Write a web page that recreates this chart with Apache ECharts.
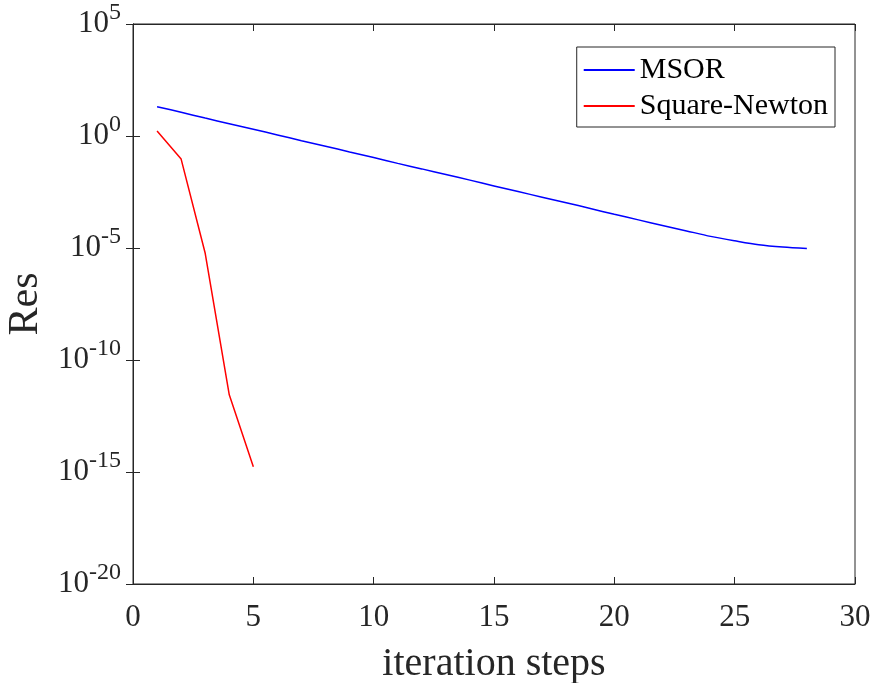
<!DOCTYPE html>
<html lang="en">
<head>
    <meta charset="UTF-8">
    <title>Res</title>
    <script src="https://cdn.jsdelivr.net/npm/echarts@6.0.0/dist/echarts.min.js"></script>
</head>
<body style="margin:0">
<div id="main" style="width: 876px;height: 683px;"></div>
</body>
<script>
    // iteration steps
    var msorSteps = [1, 2, 3, 4, 5, 6, 7, 8, 9, 10, 11, 12, 13, 14, 15, 16, 17, 18, 19, 20, 21, 22, 23, 24, 25, 26, 27, 28];
    var msorRes = [20.4, 11.5, 6.3, 3.55, 2.0, 1.12, 0.62, 0.35, 0.195, 0.11, 0.060, 0.034, 0.019, 0.0107,
        0.0059, 0.0033, 0.00186, 0.00105, 5.8e-4, 3.2e-4, 1.8e-4, 1.02e-4, 5.8e-5, 3.3e-5, 2.1e-5, 1.4e-5, 1.1e-5, 9.5e-6];
    var newtonSteps = [1, 2, 3, 4, 5];
    var newtonRes = [1.66, 0.093, 5.8e-6, 2.8e-12, 1.7e-15];

    var zip = function (xs, ys) {
        var res = [];
        for (var i = 0; i < xs.length; i++) {
            res.push([xs[i], ys[i]]);
        }
        return res;
    };

    var font = '"Liberation Serif", "Times New Roman", serif';
    var axisColor = '#262626';

    var chart = echarts.init(document.getElementById('main'));
    var option = {
        animation: false,
        textStyle: {fontFamily: font},
        grid: {
            left: 133, right: 21, top: 24, bottom: 99,
            outerBoundsMode: 'none', containLabel: false,
            show: true, borderColor: axisColor, borderWidth: 1
        },
        legend: {
            orient: 'vertical',
            right: 41,
            top: 47,
            padding: [8, 7, 6, 7],
            itemGap: 6,
            itemWidth: 51,
            itemHeight: 2,
            icon: 'rect',
            borderColor: axisColor,
            borderWidth: 1,
            textStyle: {fontFamily: font, fontSize: 30, color: '#000'},
            data: ['MSOR', 'Square-Newton']
        },
        xAxis: [{
            type: 'value',
            min: 0,
            max: 30,
            interval: 5,
            name: 'iteration steps',
            nameLocation: 'middle',
            nameGap: 60,
            nameTextStyle: {fontFamily: font, fontSize: 40, color: '#262626'},
            axisLine: {lineStyle: {color: axisColor}},
            axisTick: {inside: true, length: 7, lineStyle: {color: axisColor}},
            axisLabel: {fontFamily: font, fontSize: 31, color: '#262626', margin: 18},
            splitLine: {show: false}
        }, {
            type: 'value',
            position: 'top',
            min: 0,
            max: 30,
            interval: 5,
            axisLine: {lineStyle: {color: axisColor}},
            axisTick: {inside: true, length: 7, lineStyle: {color: axisColor}},
            axisLabel: {show: false},
            splitLine: {show: false}
        }],
        yAxis: [{
            type: 'log',
            logBase: 10,
            min: 1e-20,
            max: 1e5,
            interval: 5,
            name: 'Res',
            nameLocation: 'middle',
            nameGap: 85,
            nameTextStyle: {fontFamily: font, fontSize: 42, color: '#262626'},
            axisLine: {show: true, lineStyle: {color: axisColor}},
            axisTick: {inside: true, length: 7, lineStyle: {color: axisColor}},
            axisLabel: {
                margin: 12,
                formatter: function (v) {
                    var e = Math.round(Math.log10(v));
                    return '{b|10}{s|' + e + '}';
                },
                rich: {
                    b: {fontFamily: font, fontSize: 31, lineHeight: 31, color: '#262626', verticalAlign: 'bottom', padding: [14, 0, 0, 0]},
                    s: {fontFamily: font, fontSize: 24, lineHeight: 24, color: '#262626', verticalAlign: 'bottom', padding: [0, 0, 15, 0]}
                }
            },
            splitLine: {show: false}
        }, {
            type: 'log',
            logBase: 10,
            min: 1e-20,
            max: 1e5,
            interval: 5,
            position: 'right',
            axisLine: {show: true, lineStyle: {color: axisColor}},
            axisTick: {inside: true, length: 7, lineStyle: {color: axisColor}},
            axisLabel: {show: false},
            splitLine: {show: false}
        }],
        series: [{
            name: 'MSOR',
            type: 'line',
            smooth: 0.3,
            symbol: 'none',
            data: zip(msorSteps, msorRes),
            lineStyle: {color: '#0000ff', width: 1.5},
            itemStyle: {color: '#0000ff'}
        }, {
            name: 'Square-Newton',
            type: 'line',
            symbol: 'none',
            data: zip(newtonSteps, newtonRes),
            lineStyle: {color: '#ff0000', width: 1.5},
            itemStyle: {color: '#ff0000'}
        }]
    };
    chart.setOption(option);
</script>
</html>
